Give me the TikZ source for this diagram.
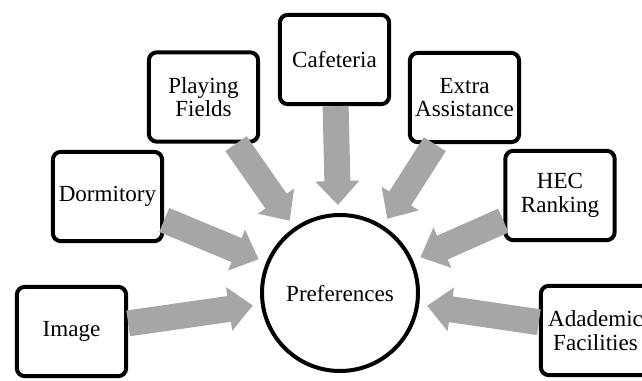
\documentclass[tikz,border=0pt]{standalone}
\usepackage{fontspec}
\setmainfont{Liberation Serif}
\usepackage{tikz}
\usetikzlibrary{arrows.meta}

\definecolor{flowgray}{HTML}{A6A6A6}

\begin{document}
\begin{tikzpicture}[x=0.75pt,y=-0.75pt,
  item/.style={draw=black,line width=3pt,rounded corners=6pt,fill=white,minimum width=82pt,minimum height=67pt,align=center,inner sep=2pt,font=\fontsize{17.3}{17.5}\selectfont},
  hub/.style={draw=black,line width=3pt,circle,fill=white,minimum size=117pt,inner sep=0pt,font=\fontsize{17.3}{17.5}\selectfont},
  flow/.style={draw=flowgray,line width=19.5pt,-{Triangle[length=18pt,width=32pt]},shorten >=6pt}]
  \clip (0,0) rectangle (642,381);

  %% centre
  \node[hub] (pref) at (340,293) {Preferences};

  %% factors
  \node[item] (image)  at (71.5,331.5)  {Image};
  \node[item] (dorm)   at (107.5,196.5) {Dormitory};
  \node[item] (fields) at (203.5,97)    {Playing\\Fields};
  \node[item] (cafe)   at (334.5,59.5)  {Cafeteria};
  \node[item] (extra)  at (464.5,97.5)  {Extra\\Assistance};
  \node[item] (hec)    at (560,195.5)   {HEC\\Ranking};
  \node[item] (acad)   at (595.5,330.5) {Adademic\\Facilities};

  %% arrows into the centre
  \foreach \src in {image,dorm,fields,cafe,extra,hec,acad}
    \draw[flow] (\src) -- (pref);
\end{tikzpicture}
\end{document}
